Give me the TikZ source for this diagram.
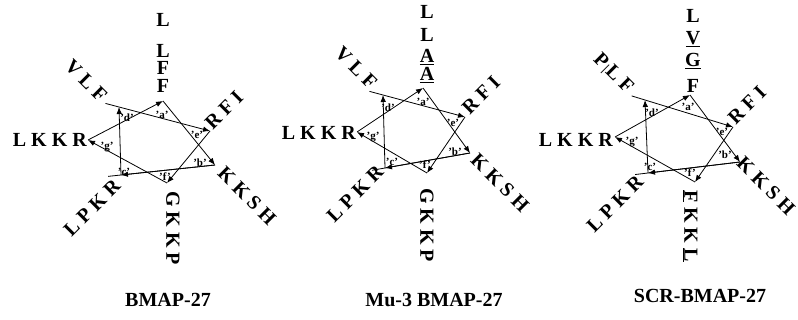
\documentclass[tikz,border=0pt]{standalone}
\usepackage{fontspec}
\setmainfont{Liberation Serif}
\usetikzlibrary{arrows.meta}
\newcommand\resfont{\bfseries\fontsize{20}{20}\selectfont}
\newcommand\barmark{{\fontsize{13}{13}\selectfont|}}
\tikzset{
  ln/.style={line width=0.8pt,-{Latex[length=7pt,width=5.5pt]}},
  ext/.style={line width=0.8pt},
  res/.style={inner sep=0pt,font=\resfont},
  lab/.style={inner sep=0pt,font=\bfseries\fontsize{11}{11}\selectfont},
  ttl/.style={inner sep=0pt,font=\bfseries\fontsize{20}{20}\selectfont}
}
\newcommand\drawwheel[1]{%
  \draw[ln] (#1a) -- (#1b);
  \draw[ln] (#1b) -- (#1c);
  \draw[ext,shorten >=-13pt] (#1b) -- (#1c);
  \draw[ln] (#1c) -- (#1d);
  \draw[ln,shorten <=-14pt] (#1d) -- (#1e);
  \draw[ln] (#1e) -- (#1f);
  \draw[ln] (#1f) -- (#1g);
  \draw[ln] (#1g) -- (#1a);
}
\begin{document}
\begin{tikzpicture}[x=1pt,y=-1pt]
\useasboundingbox (0,0) rectangle (798,320);
% ---------------- wheel 1 : BMAP-27
\coordinate (Aa) at (163,101);
\coordinate (Ae) at (210,131);
\coordinate (Ab) at (215,165);
\coordinate (Af) at (167,183);
\coordinate (Ac) at (121,175);
\coordinate (Ag) at (88,140);
\coordinate (Ad) at (119,107);
\drawwheel{A}
\node[lab] (Ala) at (162,115) {'a'};
\node[lab] (Ald) at (127,118) {'d'};
\node[lab] (Ale) at (197,135) {'e'};
\node[lab] (Alg) at (107,147) {'g'};
\node[lab] (Alb) at (200,163) {'b'};
\node[lab] (Alc) at (124,172) {'c'};
\node[lab] (Alf) at (165,177) {'f'};
\node[res] (At1) at (163,20) {L};
\node[res] (At2) at (163,51) {L};
\node[res] (At3) at (163,68) {F};
\node[res] (At4) at (163,86) {F};
\node[res,rotate=-45] (Atl) at (86,81) {V L F};
\node[res,rotate=45] (Atr) at (224,110) {R F I};
\node[res,rotate=-45] (Abr) at (247,196) {K K S H};
\node[res,rotate=-90] (Abt) at (173,228) {G K K P};
\node[res,rotate=45] (Abl) at (92,208) {L P K R};
\node[res,anchor=east] (Alf2) at (87,140) {L K K R};
\node[ttl] (At) at (168,300) {BMAP-27};
% ---------------- wheel 2 : Mu-3 BMAP-27
\coordinate (Ba) at (423,88);
\coordinate (Be) at (465,117);
\coordinate (Bb) at (470,153);
\coordinate (Bf) at (427,173);
\coordinate (Bc) at (385,168);
\coordinate (Bg) at (357,132);
\coordinate (Bd) at (383,95);
\drawwheel{B}
\node[lab] (Bla) at (423,102) {'a'};
\node[lab] (Bld) at (388,108) {'d'};
\node[lab] (Ble) at (453,123) {'e'};
\node[lab] (Blg) at (373,137) {'g'};
\node[lab] (Blb) at (455,152) {'b'};
\node[lab] (Blc) at (392,162) {'c'};
\node[lab] (Blf) at (425,165) {'f'};
\node[res] (Bt1) at (427,12) {L};
\node[res] (Bt2) at (427,35) {L};
\node[res] (Bt3) at (427,57) {\underline{A}};
\node[res] (Bt4) at (427,75) {\underline{A}};
\node[res,rotate=-45] (Btl) at (356,68) {V L F};
\node[res,rotate=45] (Btr) at (481,95) {R F I};
\node[res,rotate=-45] (Bbr) at (500,183) {K K S H};
\node[res,rotate=-90] (Bbt) at (427,225) {G K K P};
\node[res,rotate=45] (Bbl) at (355,194) {L P K R};
\node[res,anchor=east] (Blf2) at (356,133) {L K K R};
\node[ttl] (Bt) at (434,300) {Mu-3 BMAP-27};
% ---------------- wheel 3 : SCR-BMAP-27
\coordinate (Ca) at (690,95);
\coordinate (Ce) at (733,127);
\coordinate (Cb) at (740,162);
\coordinate (Cf) at (695,182);
\coordinate (Cc) at (648,173);
\coordinate (Cg) at (615,137);
\coordinate (Cd) at (645,100);
\drawwheel{C}
\node[lab] (Cla) at (688,107) {'a'};
\node[lab] (Cld) at (652,113) {'d'};
\node[lab] (Cle) at (722,132) {'e'};
\node[lab] (Clg) at (632,142) {'g'};
\node[lab] (Clb) at (725,155) {'b'};
\node[lab] (Clc) at (650,167) {'c'};
\node[lab] (Clf) at (690,173) {'f'};
\node[res] (Ct1) at (693,16) {L};
\node[res] (Ct2) at (693,39) {\underline{V}};
\node[res] (Ct3) at (693,61) {\underline{G}};
\node[res] (Ct4) at (693,86) {F};
\node[res,rotate=-45] (Ctl) at (613,74) {P\kern1pt\barmark\kern1pt L F};
\node[res,rotate=45] (Ctr) at (747,105) {R F I};
\node[res,rotate=-45] (Cbr) at (766,186) {K K S H};
\node[res,rotate=-90] (Cbt) at (690,226) {\underline{F} K K \underline{L}};
\node[res,rotate=45] (Cbl) at (615,204) {L P K R};
\node[res,anchor=east] (Clf2) at (613,140) {L K K R};
\node[ttl] (Ct) at (700,296) {SCR-BMAP-27};
\end{tikzpicture}
\end{document}
